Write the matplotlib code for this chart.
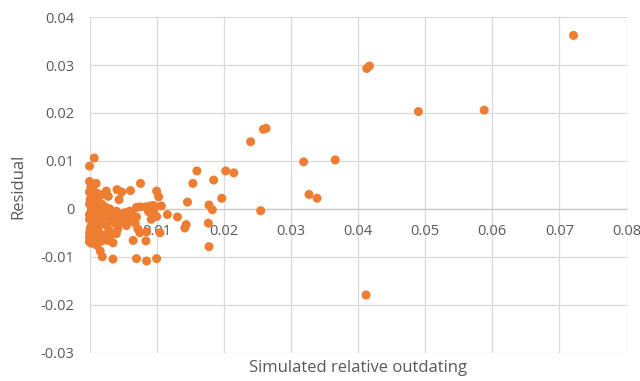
import matplotlib as mpl

mpl.use("Agg")
import matplotlib.pyplot as plt
import numpy as np

# simulated relative outdating vs residual, both in thousandths
outdating_permille = [
    72.1, 41.3, 41.7, 49.0, 58.8, 25.9, 26.3, 24.0, 31.9, 36.6,
    32.7, 33.9, 25.5, 41.2, 21.5, 20.3, 19.7, 18.5, 17.8, 18.3,
    17.7, 17.8, 16.0, 15.4, 14.6, 14.4, 14.2, 13.1, 11.6, 10.7,
    10.0, 10.3, 10.5, 10.0, 8.5, 7.0, 7.6, 8.4, 7.5,
    7.0, 7.5, 8.3, 9.0, 9.5, 8.8, 9.5, 10.0, 9.8, 7.0,
    6.8, 6.3, 6.0, 6.5, 8.5, 7.2, 9.2, 6.1, 5.7,
    2.1, 2.5, 2.8, 4.1, 4.4, 4.8, 3.0, 3.5, 4.0, 4.5,
    5.0, 5.3, 3.2, 2.6, 3.8, 4.2, 4.0, 3.5, 3.5, 4.7,
    2.2, 2.4, 2.0, 5.5, 2.9, 2.3, 2.0, 1.9, 1.6, 1.1, 2.7,
    0.7, 0.0, 0.0, 1.0, 0.2, 0.0, 0.4, 0.1, 0.6, 0.0,
    0.3, 0.9, 1.3, 1.6, 0.2, 0.7, 1.2, 0.0, 0.5, 1.0,
    1.5, 0.2, 0.8, 1.4, 0.0, 0.4, 1.0, 0.1, 0.0, 0.3,
    0.6, 1.7, 1.8, 1.9, 0.5, 1.2, 0.0, 0.3, 0.1, 0.0,
    0.8, 1.1, 2.6, 3.3, 3.0, 5.0, 5.8,
]
residual_permille = [
    36.2, 29.3, 29.8, 20.3, 20.6, 16.6, 16.8, 14.0, 9.8, 10.2,
    3.0, 2.2, -0.4, -18.0, 7.5, 7.9, 2.2, 6.0, 0.8, -0.2,
    -3.0, -7.9, 7.9, 5.3, 1.4, -3.3, -4.0, -1.7, -1.2, 0.6,
    3.7, 2.5, -5.0, -10.4, -10.9, -10.4, 5.3, -6.7, -5.0,
    0.3, 0.4, 0.4, 0.6, 0.7, -0.6, -0.6, -1.6, 0.4, -1.7,
    -3.0, -1.2, -0.5, -6.6, -4.8, -4.2, -2.2, 3.8, -1.5,
    3.0, 3.7, 2.6, 4.0, 1.9, 3.5, 0.0, -1.0, -0.5, -1.8,
    -2.5, -0.8, -2.5, -3.5, -3.0, -4.2, -5.2, -7.1, -10.5, -2.8,
    -1.5, 0.3, -0.5, -3.5, -4.5, -5.5, -6.3, -10.0, -8.8, -7.6, -6.6,
    10.6, 8.9, 5.7, 5.3, 4.5, 3.5, 2.7, 2.0, 1.3, 1.0,
    0.3, 0.6, 1.8, -0.2, -0.8, -1.3, -1.9, -2.2, -2.6, -3.0,
    -3.4, -3.8, -4.3, -4.9, -5.0, -5.6, -6.0, -6.5, -6.9, -7.2,
    -7.0, -6.8, -2.5, 0.9, 4.0, 3.2, -1.2, -0.3, -4.1, -5.9,
    -2.0, -0.6, -1.1, -2.0, -6.0, -1.0, -2.6,
]

x_ticks = [0, 0.01, 0.02, 0.03, 0.04, 0.05, 0.06, 0.07, 0.08]
x_tick_labels = ["0", "0.01", "0.02", "0.03", "0.04", "0.05", "0.06", "0.07", "0.08"]
y_ticks = [-0.03, -0.02, -0.01, 0, 0.01, 0.02, 0.03, 0.04]
y_tick_labels = ["-0.03", "-0.02", "-0.01", "0", "0.01", "0.02", "0.03", "0.04"]

ORANGE = "#ED7D31"
GRID = "#d9d9d9"
TEXT = "#595959"

plt.rcParams["font.family"] = ["Open Sans", "DejaVu Sans"]

x = np.array(outdating_permille) / 1000
y = np.array(residual_permille) / 1000

fig = plt.figure(figsize=(6.4, 3.81), dpi=100)
ax = fig.add_axes([89.5 / 640, 1 - 352.5 / 381, 537 / 640, 335.3 / 381])

ax.scatter(x, y, s=42, color=ORANGE, edgecolors="none", zorder=3, clip_on=False)

ax.set_xlim(0, 0.08)
ax.set_ylim(-0.03, 0.04)
ax.set_xticks(x_ticks, x_tick_labels)
ax.set_yticks(y_ticks, y_tick_labels)
ax.set_axisbelow(True)
ax.grid(True, color=GRID, linewidth=0.9)

for side in ["top", "right", "left"]:
    ax.spines[side].set_visible(False)
# category axis crosses at zero, labels hang below it
ax.spines["bottom"].set_position(("data", 0))
ax.spines["bottom"].set_color("#c8c8c8")
ax.spines["bottom"].set_linewidth(0.9)

ax.tick_params(axis="x", length=0, pad=11, labelsize=10.5, labelcolor=TEXT)
ax.tick_params(axis="y", length=0, pad=11, labelsize=10.5, labelcolor=TEXT)

fig.text(18 / 640, 1 - 186 / 381, "Residual", rotation=90, ha="center",
         va="center", fontsize=12, color=TEXT)
fig.text(358 / 640, 1 - 368 / 381, "Simulated relative outdating", ha="center",
         va="center", fontsize=12, color=TEXT)

fig.savefig("out.png", dpi=100, facecolor="white")
